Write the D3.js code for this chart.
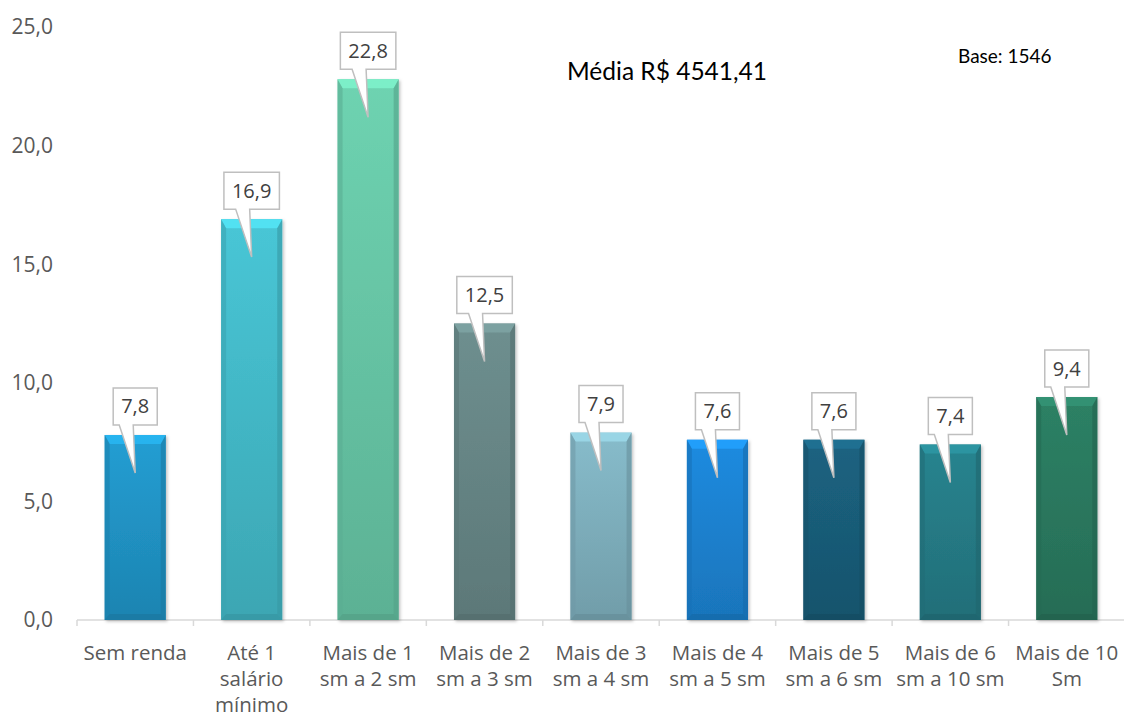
<!DOCTYPE html>
<html><head><meta charset="utf-8">
<script src="https://cdn.jsdelivr.net/npm/d3@7"></script>
<style>body{margin:0;background:#fff;} svg{display:block;font-family:"Open Sans", sans-serif;}</style>
</head><body>
<svg id="c" width="1124" height="718"></svg>
<script>
const categories = ["Sem renda","Até 1 salário mínimo","Mais de 1 sm a 2 sm","Mais de 2 sm a 3 sm","Mais de 3 sm a 4 sm","Mais de 4 sm a 5 sm","Mais de 5 sm a 6 sm","Mais de 6 sm a 10 sm","Mais de 10 Sm"];
const categoryLines = [["Sem renda"],["Até 1","salário","mínimo"],["Mais de 1","sm a 2 sm"],["Mais de 2","sm a 3 sm"],["Mais de 3","sm a 4 sm"],["Mais de 4","sm a 5 sm"],["Mais de 5","sm a 6 sm"],["Mais de 6","sm a 10 sm"],["Mais de 10","Sm"]];
const values = [7.8,16.9,22.8,12.5,7.9,7.6,7.6,7.4,9.4];
const barColors = ["#2196c8","#44bccb","#68c8a8","#688888","#80b2c0","#1c84d4","#1a5e7a","#267d88","#2b7a60"];
const yTicks = [0,5,10,15,20,25];
const title = "Média R$ 4541,41";
const baseNote = "Base: 1546";

const svg = d3.select("#c");
const x = d3.scaleBand().domain(categories).range([77,1125]).paddingInner(0.475).paddingOuter(0.2375);
const y = d3.scaleLinear().domain([0,25]).range([620,27]);
const fmt = v => d3.format(".1f")(v).replace(".", ",");

// y labels
svg.append("g").selectAll("text").data(yTicks).join("text")
  .attr("x",53).attr("y",d=>y(d)).attr("dy","0.35em").attr("text-anchor","end")
  .attr("font-size",21).attr("fill","#595959").text(fmt);

// x axis
const xAxis = d3.axisBottom(x).tickSize(0).tickFormat("");
const gx = svg.append("g").attr("transform","translate(0,620)").call(xAxis);
gx.select(".domain").attr("stroke","#d9d9d9").attr("stroke-width",1.5).attr("d","M77,0H1125");
const step = x.step();
const bounds = d3.range(categories.length+1).map(i=>77+i*step);
svg.append("g").selectAll("line").data(bounds).join("line")
  .attr("x1",d=>d).attr("x2",d=>d).attr("y1",620).attr("y2",626)
  .attr("stroke","#d9d9d9").attr("stroke-width",1.5);

// category labels
const cl = svg.append("g").selectAll("text").data(categories).join("text")
  .attr("x",d=>x(d)+x.bandwidth()/2).attr("y",660).attr("text-anchor","middle")
  .attr("font-size",20.5).attr("fill","#595959");
cl.each(function(d,i){
  d3.select(this).selectAll("tspan").data(categoryLines[i]).join("tspan")
    .attr("x",x(d)+x.bandwidth()/2).attr("dy",(t,j)=>j===0?0:26).text(t=>t);
});

// defs
const defs = svg.append("defs");
const sh = defs.append("filter").attr("id","sh").attr("x","-20%").attr("y","-20%").attr("width","140%").attr("height","140%");
sh.append("feDropShadow").attr("dx",1.5).attr("dy",1.5).attr("stdDeviation",1.5).attr("flood-color","#000").attr("flood-opacity",0.25);

categories.forEach((c,i)=>{
  const col = d3.color(barColors[i]);
  const g = defs.append("linearGradient").attr("id","g"+i).attr("x1",0).attr("x2",0).attr("y1",0).attr("y2",1);
  g.append("stop").attr("offset","0%").attr("stop-color",col.brighter(0.15));
  g.append("stop").attr("offset","100%").attr("stop-color",col.darker(0.35));
});

const bars = svg.append("g").selectAll("g").data(categories).join("g");
bars.each(function(c,i){
  const g = d3.select(this);
  const x0 = x(c), w = x.bandwidth(), y0 = y(values[i]), y1 = y(0);
  const col = d3.color(barColors[i]);
  const bt = 9, bs = 5, bb = 6;
  g.append("rect").attr("x",x0).attr("y",y0).attr("width",w).attr("height",y1-y0)
    .attr("fill",`url(#g${i})`).attr("filter","url(#sh)");
  g.append("path").attr("d",`M${x0},${y0}H${x0+w}L${x0+w-bs},${y0+bt}H${x0+bs}Z`).attr("fill",col.brighter(0.55)).attr("opacity",0.85);
  g.append("path").attr("d",`M${x0},${y0}L${x0+bs},${y0+bt}V${y1-bb}L${x0},${y1}Z`).attr("fill",col.darker(0.4)).attr("opacity",0.6);
  g.append("path").attr("d",`M${x0+w},${y0}L${x0+w-bs},${y0+bt}V${y1-bb}L${x0+w},${y1}Z`).attr("fill",col.darker(0.6)).attr("opacity",0.6);
  g.append("path").attr("d",`M${x0},${y1}L${x0+bs},${y1-bb}H${x0+w-bs}L${x0+w},${y1}Z`).attr("fill",col.darker(0.7)).attr("opacity",0.6);
});

// callouts
const co = svg.append("g").selectAll("g").data(categories).join("g");
co.each(function(c,i){
  const g = d3.select(this);
  const cx = x(c)+x.bandwidth()/2, top = y(values[i]);
  const t = g.append("text").attr("font-size",20).attr("fill","#404040").attr("text-anchor","middle").text(fmt(values[i]));
  const tw = t.node().getComputedTextLength();
  const bw = tw+16, bh = 37;
  const bottom = top-10, btop = bottom-bh, l = cx-bw/2, r = cx+bw/2;
  const tipY = top+38;
  g.insert("path","text").attr("d",`M${l},${btop}H${r}V${bottom}H${cx-2}L${cx},${tipY}L${cx-16},${bottom}H${l}Z`)
    .attr("fill","#fff").attr("stroke","#bfbfbf").attr("stroke-width",1.5).attr("stroke-linejoin","miter");
  t.attr("x",cx).attr("y",btop+bh/2).attr("dy","0.35em");
});

svg.append("text").attr("x",567).attr("y",80).attr("font-family","Lato, sans-serif").attr("font-size",24.5).attr("fill","#000").text(title);
svg.append("text").attr("x",958).attr("y",63).attr("font-family","Lato, sans-serif").attr("font-size",19).attr("fill","#000").text(baseNote);
</script>
</body></html>
